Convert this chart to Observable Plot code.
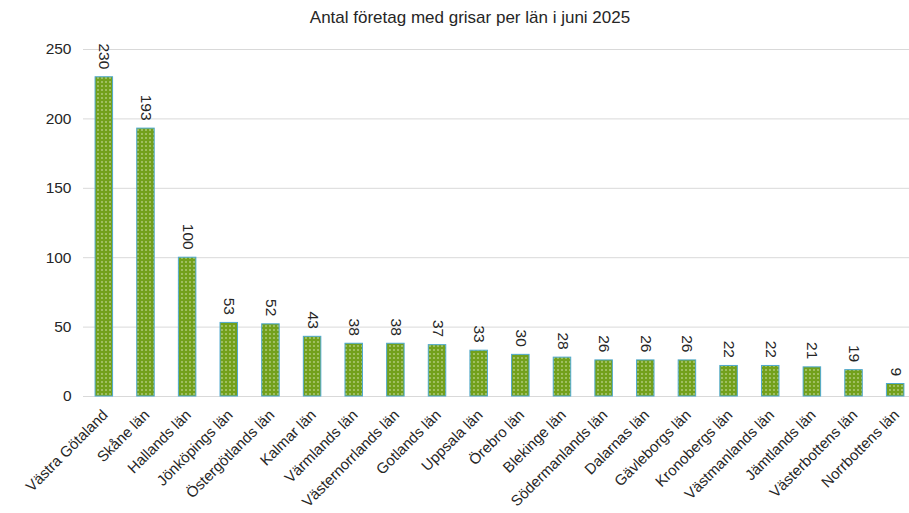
<!DOCTYPE html>
<html>
<head>
<meta charset="utf-8">
<script src="https://cdn.jsdelivr.net/npm/d3@7"></script>
<script src="https://cdn.jsdelivr.net/npm/@observablehq/plot@0.6"></script>
<style>
  body { margin: 0; background: #fff; font-family: "Liberation Sans", Arial, sans-serif; }
  #title { width: 909px; height: 36px; line-height: 36px; text-align: center; font-size: 17px; color: #262626; padding-left: 31px; box-sizing: border-box; }
</style>
</head>
<body>
<div id="title">Antal företag med grisar per län i juni 2025</div>
<div id="chart"></div>
<script>
const lan = ["Västra Götaland", "Skåne län", "Hallands län", "Jönköpings län", "Östergötlands län", "Kalmar län", "Värmlands län", "Västernorrlands län", "Gotlands län", "Uppsala län", "Örebro län", "Blekinge län", "Södermanlands län", "Dalarnas län", "Gävleborgs län", "Kronobergs län", "Västmanlands län", "Jämtlands län", "Västerbottens län", "Norrbottens län"];
const antal = [230, 193, 100, 53, 52, 43, 38, 38, 37, 33, 30, 28, 26, 26, 26, 22, 22, 21, 19, 9];
const yTicks = [0, 50, 100, 150, 200, 250];

const data = lan.map((l, i) => ({lan: l, antal: antal[i]}));

function defs() {
  const ns = "http://www.w3.org/2000/svg";
  const d = document.createElementNS(ns, "defs");
  const p = document.createElementNS(ns, "pattern");
  p.setAttribute("id", "dots");
  p.setAttribute("patternUnits", "userSpaceOnUse");
  p.setAttribute("width", "4");
  p.setAttribute("height", "4");
  const r = document.createElementNS(ns, "rect");
  r.setAttribute("width", "4"); r.setAttribute("height", "4"); r.setAttribute("fill", "#72a01c");
  p.appendChild(r);
  const c = document.createElementNS(ns, "circle");
  c.setAttribute("cx", 2); c.setAttribute("cy", 2); c.setAttribute("r", "0.75");
  c.setAttribute("fill", "#e4eec8");
  p.appendChild(c);
  d.appendChild(p);
  return d;
}

const chart = Plot.plot({
  width: 909,
  height: 477,
  marginTop: 13,
  marginBottom: 117,
  marginLeft: 83,
  marginRight: 0,
  style: {fontFamily: "'Liberation Sans', Arial, sans-serif", fontSize: "15px", color: "#262626", overflow: "visible"},
  x: {domain: lan, range: [83, 916], paddingInner: 0.58, paddingOuter: 0.29, round: false, label: null},
  y: {domain: [0, 250], label: null},
  marks: [
    defs,
    Plot.ruleY(yTicks, {stroke: "#d9d9d9", strokeWidth: 1}),
    Plot.ruleY(yTicks, {x1: 79, x2: 83, stroke: "#d9d9d9"}),
    Plot.ruleX([0], {x: () => 83, y1: 0, y2: 250, stroke: "#d9d9d9"}),
    Plot.axisY({ticks: yTicks, tickSize: 0, tickPadding: 12, fontSize: 15.5, label: null}),
    Plot.axisX({tickRotate: -45, tickSize: 0, tickPadding: 16, dx: 1, fontSize: 15, label: null}),
    Plot.barY(data, {x: "lan", y: "antal", fill: "url(#dots)", stroke: "#4fa9cf", strokeWidth: 1}),
    Plot.text(data, {x: "lan", y: "antal", text: d => String(d.antal), rotate: 90, textAnchor: "end", dy: -8, fontSize: 15.5, fill: "#262626"})
  ]
});
document.getElementById("chart").appendChild(chart);
</script>
</body>
</html>
